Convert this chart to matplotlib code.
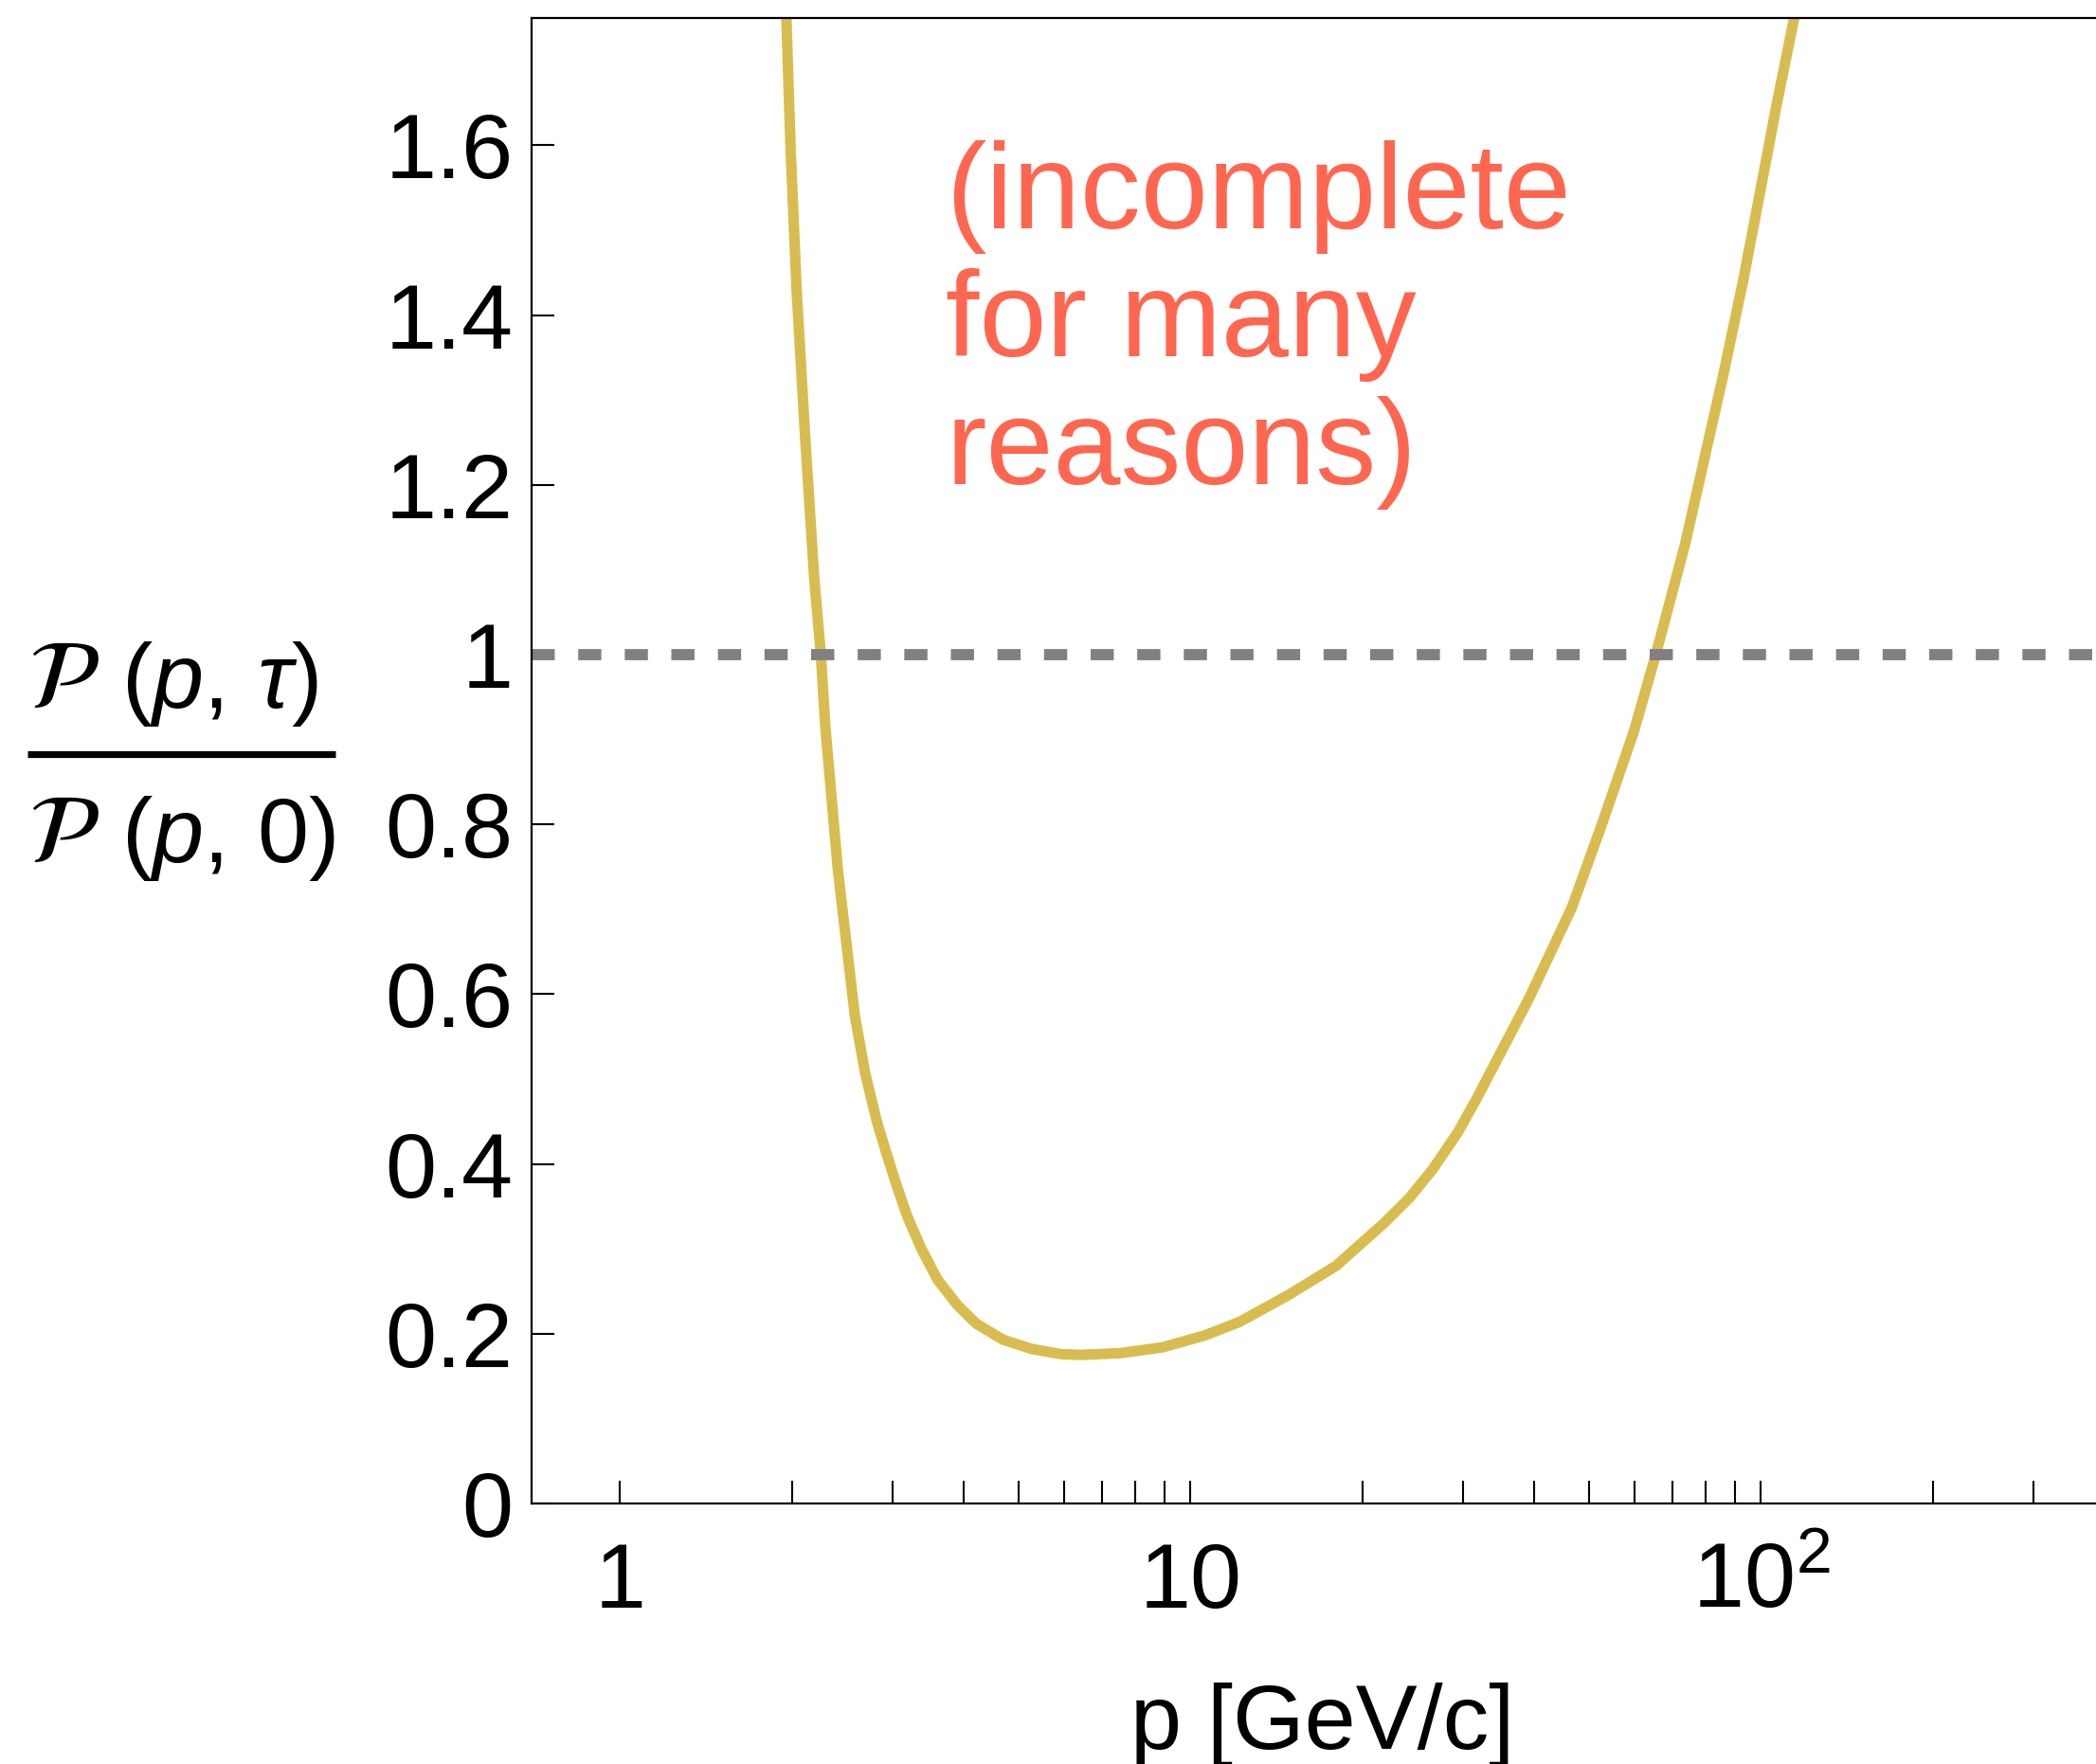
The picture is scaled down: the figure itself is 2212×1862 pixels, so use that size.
import numpy as np
import matplotlib
matplotlib.use("Agg")
import matplotlib.pyplot as plt
from matplotlib.lines import Line2D

plt.rcParams['font.family'] = ['Liberation Sans', 'DejaVu Sans']
plt.rcParams['mathtext.fontset'] = 'custom'
plt.rcParams['mathtext.rm'] = 'Liberation Sans'
plt.rcParams['mathtext.it'] = 'Liberation Sans:italic'
plt.rcParams['lines.scale_dashes'] = False

# ratio P(p,tau)/P(p,0)
momentum = [1.958, 1.99, 2.04, 2.11, 2.19, 2.25, 2.29, 2.41, 2.58, 2.69,
            2.82, 2.93, 3.05, 3.19, 3.37, 3.60, 3.90, 4.21, 4.69, 5.27, 5.92,
            6.41, 7.51, 8.94, 10.6, 12.2, 14.8, 18.0, 21.9, 24.2, 26.6, 29.4,
            31.8, 39.2, 46.6, 52.6, 59.9, 65.4, 73.6, 79.2, 85.9, 93.0, 99.3,
            106.3, 114.3]
ratio = [1.748, 1.60, 1.43, 1.26, 1.09, 1.0, 0.916, 0.746, 0.575, 0.507,
         0.450, 0.413, 0.376, 0.338, 0.301, 0.264, 0.234, 0.212, 0.193, 0.182,
         0.176, 0.175, 0.177, 0.184, 0.198, 0.214, 0.245, 0.28, 0.331, 0.36,
         0.394, 0.437, 0.478, 0.595, 0.702, 0.80, 0.91, 1.0, 1.13, 1.225, 1.33,
         1.44, 1.54, 1.645, 1.75]

xticks = [1, 10, 100]
xticklabels = ['1', '10', r'$\mathregular{10^2}$']
yticks = [0, 0.2, 0.4, 0.6, 0.8, 1.0, 1.2, 1.4, 1.6]
yticklabels = ['0', '0.2', '0.4', '0.6', '0.8', '1', '1.2', '1.4', '1.6']

W, H = 2212, 1862
fig = plt.figure(figsize=(W / 100, H / 100), dpi=100)
ax = fig.add_axes([561 / W, 1 - 1587 / H, 1660 / W, (1587 - 19) / H])

ax.plot(momentum, ratio, color='#D9BC50', lw=8, solid_joinstyle='round')
ax.axhline(1.0, color='#808080', lw=8.5, dashes=(17.6, 17.8))

ax.set_xscale('log')
ax.set_xlim(0.7, 400)
ax.set_ylim(0, 1.75)

ax.set_xticks(xticks)
ax.set_xticklabels(xticklabels)
ax.set_xticks([2, 3, 4, 5, 6, 7, 8, 9, 20, 30, 40, 50, 60, 70, 80, 90, 200, 300],
              minor=True)
ax.set_yticks(yticks)
ax.set_yticklabels(yticklabels)

ax.tick_params(axis='both', which='both', direction='in', length=17,
               width=1.5, labelsize=70)
ax.tick_params(axis='x', which='both', pad=79)
ax.tick_params(axis='y', pad=14)
for t in ax.xaxis.get_major_ticks():
    t.label1.set_verticalalignment('baseline')

ax.spines['right'].set_visible(False)
for s in ['left', 'bottom', 'top']:
    ax.spines[s].set_linewidth(1.6)

ax.set_xlabel('p [GeV/c]', fontsize=70, labelpad=0)
ax.xaxis.set_label_coords((1396 - 561) / 1660, -(1846 - 1587) / (1587 - 19))
ax.xaxis.label.set_verticalalignment('baseline')


# y label as a hand built fraction (figure pixels from top-left)
def fx(px):
    return px / W


def fy(py):
    return 1 - py / H


fig.text(fx(30), fy(747), r'$\mathcal{P}$', fontsize=74,
         math_fontfamily='stix', ha='left', va='baseline')
fig.text(fx(128), fy(747), r'$(p,\,\tau)$', fontsize=70,
         ha='left', va='baseline')
fig.text(fx(30), fy(910), r'$\mathcal{P}$', fontsize=74,
         math_fontfamily='stix', ha='left', va='baseline')
fig.text(fx(128), fy(910), r'$(p,\,0)$', fontsize=70,
         ha='left', va='baseline')
fig.add_artist(Line2D([fx(29), fx(354)], [fy(795.5), fy(795.5)],
                      color='black', lw=5.2, solid_capstyle='butt'))

fig.text(fx(998), fy(148), '(incomplete\nfor many\nreasons)',
         fontsize=92, color='#FF6650', ha='left', va='top', linespacing=1.16)

fig.savefig('out.png', dpi=100)
